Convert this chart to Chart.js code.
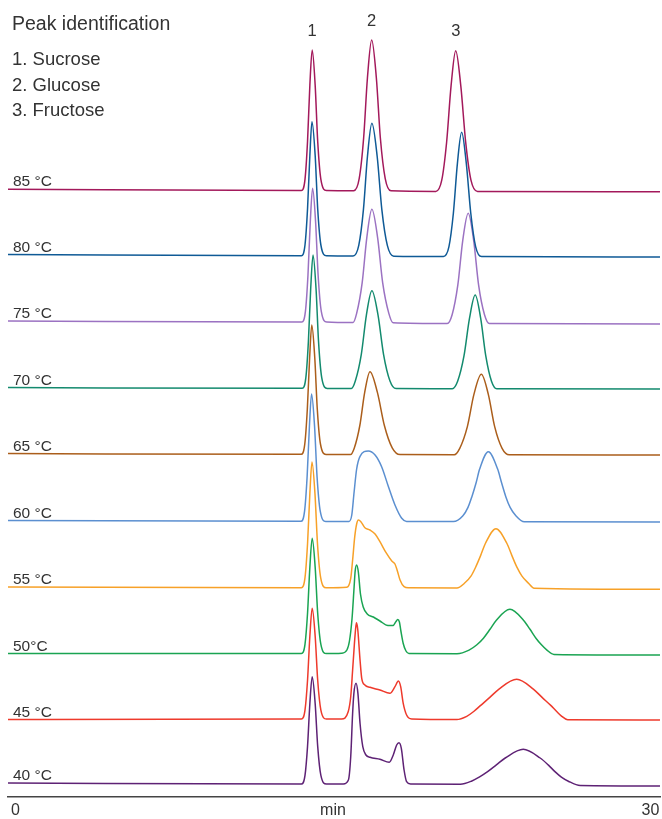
<!DOCTYPE html>
<html>
<head>
<meta charset="utf-8">
<title>Sugar separation vs column temperature</title>
<script src="https://cdn.jsdelivr.net/npm/chart.js@4.4.1/dist/chart.umd.min.js"></script>
<style>
  html, body { margin: 0; padding: 0; background: #fff; }
  #wrap { position: relative; width: 662px; height: 819px; }
  #key { position: absolute; left: 12px; top: 0; color: #333; font-family: "Liberation Sans", Arial, sans-serif; }
  #key .title { position: absolute; left: 0; top: 14px; font-size: 19.5px; line-height: 19.5px; white-space: nowrap; }
  #key .list { position: absolute; left: 0; top: 46px; font-size: 18.5px; line-height: 25.7px; white-space: nowrap; }
</style>
</head>
<body>
<div id="wrap">
  <canvas id="chrom" width="662" height="819"></canvas>
  <div id="key">
    <div class="title">Peak identification</div>
    <div class="list">1. Sucrose<br>2. Glucose<br>3. Fructose</div>
  </div>
</div>
<script>
// labels for each trace, top to bottom
const temps = ['85 °C', '80 °C', '75 °C', '70 °C', '65 °C', '60 °C', '55 °C', '50°C', '45 °C', '40 °C'];
const colors = ['#a3195b', '#0f5a96', '#9b72c2', '#138a6e', '#ab5e1b', '#5b8fd0', '#f7a128', '#1aa452', '#ee3a2c', '#5e2275'];

// axis ticks (minutes)
const axisTicks = [0, 15, 30];
const axisLabels = ['0', 'min', '30'];

// peak numbers written above the 85 °C trace
const peakNumbers = ['1', '2', '3'];
const peakTimes = [14.0, 16.85, 20.8];

// traces: [time (min), signal (stacked, arbitrary units)]
const trace85 = [[-0.35,607.7],[13.51,606.5],[13.68,617.7],[13.80,655.7],[13.91,711.9],[14.02,747],[14.16,711.9],[14.28,655.7],[14.43,617.7],[14.69,606.5],
  [15.98,606.3],[16.24,618.4],[16.45,659],[16.63,719.3],[16.83,757],[17.05,719.3],[17.24,659],[17.47,618.4],[17.74,606.2],
  [19.86,605.6],[20.14,616.8],[20.37,654.8],[20.58,711.1],[20.80,746.3],[21.04,711.1],[21.27,654.8],[21.52,616.8],[21.83,605.5],
  [30.45,605.2]];
const trace80 = [[-0.35,542.4],[13.51,541.3],[13.68,552],[13.80,588.2],[13.91,641.8],[14.01,675.3],[14.16,641.8],[14.28,588.2],[14.43,552],[14.69,541.2],
  [15.95,541],[16.22,551.6],[16.44,587.4],[16.63,640.5],[16.84,673.7],[17.09,640.5],[17.31,587.4],[17.57,551.6],[17.87,540.8],
  [20.22,540.5],[20.48,550.4],[20.69,584],[20.88,633.7],[21.08,664.7],[21.30,633.7],[21.51,584],[21.74,550.4],[22.02,540.4],
  [30.45,540]];
const trace75 = [[-0.35,476],[13.53,475],[13.70,485.7],[13.82,521.8],[13.93,575.3],[14.04,608.7],[14.18,575.3],[14.30,521.8],[14.45,485.7],[14.71,475],
  [15.95,474.5],[16.12,483.6],[16.38,514.1],[16.60,559.4],[16.84,587.7],[17.11,559.4],[17.35,514.1],[17.64,483.6],[17.84,474.3],
  [20.40,473.5],[20.63,482.3],[20.90,512.1],[21.13,556.2],[21.39,583.7],[21.65,556.2],[21.88,512.1],[22.16,482.3],[22.39,473.4],
  [30.45,473]];
const trace70 = [[-0.35,409.4],[13.55,408.7],[13.72,419.4],[13.84,455.4],[13.95,508.7],[14.06,542],[14.20,508.7],[14.32,455.4],[14.47,419.4],[14.73,408.6],
  [15.87,408.5],[16.06,416.3],[16.34,442.7],[16.58,481.9],[16.84,506.3],[17.13,481.9],[17.39,442.7],[17.69,416.3],[17.98,408.4],
  [20.64,408.3],[20.89,415.8],[21.19,441.1],[21.45,478.6],[21.72,502],[21.98,478.6],[22.22,441.1],[22.49,415.8],[22.74,408.2],
  [30.45,408]];
const trace65 = [[-0.35,343.4],[13.50,342.7],[13.67,353],[13.79,388],[13.90,439.7],[14.00,472],[14.14,439.7],[14.26,388],[14.41,353],[14.67,342.6],
  [15.83,342.5],[16.01,349.1],[16.27,371.5],[16.50,404.6],[16.75,425.3],[17.10,404.6],[17.43,371.5],[17.80,349.1],[18.17,342.4],
  [20.73,342.3],[20.99,348.7],[21.35,370.4],[21.66,402.6],[22.01,422.7],[22.34,402.6],[22.64,370.4],[22.99,348.7],[23.33,342.2],
  [30.45,342]];
const trace60 = [[-0.35,276.5],[13.49,275.7],[13.66,285.9],[13.78,320.3],[13.89,371.2],[13.99,403],[14.13,371.2],[14.25,320.3],[14.40,285.9],[14.66,275.6],
  [15.76,275.6],[15.89,282],[16.00,305],[16.12,328],[16.28,340.7],[16.67,346],[16.99,342],[17.30,330.3],[17.61,311],[17.93,292],[18.25,278.7],[18.48,275.5],
  [20.69,275.4],[21.14,281.3],[21.38,289.6],[21.56,300.1],[21.76,314],[21.93,327.9],[22.34,345.3],[22.78,327.9],[22.97,314],[23.17,300.1],[23.37,289.6],[23.64,281.3],[24.04,275.2],
  [30.45,275]];
const trace55 = [[-0.35,210],[13.51,209.3],[13.68,219.4],[13.80,253.3],[13.91,303.6],[14.01,335],[14.15,303.6],[14.27,253.3],[14.42,219.4],[14.68,209.2],
  [15.65,209.7],[15.84,218.7],[15.93,237],[16.03,260.3],[16.12,273],[16.20,277],[16.32,275.3],[16.51,269.3],[16.75,267],[16.99,263],[17.22,255.3],
  [17.51,244.3],[17.78,236],[17.93,233],[18.04,226.3],[18.17,217],[18.36,210.3],[18.56,209.2],
  [20.86,209],[21.21,213.7],[21.52,220.9],[21.74,229.8],[21.98,241.6],[22.20,253.5],[22.70,268.3],[23.22,253.5],[23.45,241.6],[23.69,229.8],[23.93,220.9],[24.24,213.7],[24.50,208.8],
  [30.45,207.7]];
const trace50 = [[-0.35,143.5],[13.51,143.5],[13.68,152.7],[13.80,183.8],[13.91,229.9],[14.02,258.7],[14.16,229.9],[14.28,183.8],[14.43,152.7],[14.69,143.4],
  [15.41,143.8],[15.66,147],[15.78,156],[15.90,178],[16.00,210],[16.05,226],[16.12,232],[16.20,225],[16.30,203],[16.43,190],[16.62,183],[16.91,180],
  [17.22,176],[17.60,171.5],[17.84,171.5],[17.98,175.5],[18.06,177.5],[18.14,175],[18.21,166],[18.32,153.5],[18.45,146],[18.59,143.5],
  [20.86,143.3],[21.43,146.9],[21.80,152.2],[22.11,158.8],[22.42,167.7],[22.71,176.6],[23.36,187.7],[24.01,176.6],[24.31,167.7],[24.59,158.8],[24.85,152.2],[25.11,146.9],[25.44,142.6],
  [30.45,142]];
const trace45 = [[-0.35,77.5],[13.51,78],[13.68,86.9],[13.80,116.7],[13.91,161],[14.02,188.7],[14.16,161],[14.28,116.7],[14.43,86.9],[14.69,78],
  [15.41,78],[15.72,85.3],[15.84,100.3],[15.93,127],[16.01,152],[16.07,168],[16.11,174.3],[16.17,168],[16.28,137],[16.36,118.7],[16.51,112],
  [16.75,109.7],[17.22,107],[17.69,103.7],[17.93,110.3],[18.09,116],[18.20,110.3],[18.32,93.7],[18.48,82],[18.72,78],
  [20.85,77.5],[21.32,80.7],[21.65,85.5],[21.98,91.6],[22.41,99.6],[22.83,107.7],[23.68,117.7],[24.48,107.7],[24.88,99.6],[25.29,91.6],[25.57,85.5],[25.81,80.7],[26.09,77.2],
  [30.45,77]];
const trace40 = [[-0.35,14],[13.51,13],[13.68,21.6],[13.80,50.6],[13.91,93.5],[14.02,120.3],[14.16,93.5],[14.28,50.6],[14.43,21.6],[14.69,13],
  [15.49,13],[15.73,17],[15.84,40.3],[15.93,83.7],[15.99,103.7],[16.09,113.7],[16.18,103.7],[16.28,73.7],[16.41,50.3],[16.56,42],[16.75,39.7],
  [17.22,37.7],[17.66,34.7],[17.85,42],[18.01,52],[18.12,54.3],[18.23,48.7],[18.36,27],[18.48,15.3],[18.67,13],
  [21.02,12.8],[21.54,15.8],[21.91,19.9],[22.29,25.1],[22.72,32.1],[23.14,39],[23.99,47.7],[24.79,39],[25.17,32.1],[25.50,25.1],[25.79,19.9],[26.12,15.8],[26.68,11.5],
  [30.45,11]];

const traces = [trace85, trace80, trace75, trace70, trace65, trace60, trace55, trace50, trace45, trace40];

const FONT = '"Liberation Sans", Arial, sans-serif';

// temperature labels at the left of each trace + peak numbers over the top trace
const traceLabels = {
    id: 'traceLabels',
    afterDatasetsDraw(chart) {
        const { ctx, scales: { x, y } } = chart;
        ctx.save();
        ctx.fillStyle = '#333';
        ctx.font = '15.5px ' + FONT;
        ctx.textAlign = 'left';
        ctx.textBaseline = 'alphabetic';
        chart.data.datasets.forEach(ds => {
            ctx.fillText(ds.label, 13, y.getPixelForValue(ds.data[0].y) - 3);
        });

        const top = chart.data.datasets[0].data;
        ctx.font = '16.5px ' + FONT;
        ctx.textAlign = 'center';
        ctx.textBaseline = 'middle';
        peakNumbers.forEach((n, i) => {
            const best = top.filter(p => Math.abs(p.x - peakTimes[i]) < 0.4)
                .reduce((a, b) => (b.y > a.y ? b : a));
            ctx.fillText(n, x.getPixelForValue(best.x), y.getPixelForValue(best.y) - 19);
        });
        ctx.restore();
    }
};

new Chart(document.getElementById('chrom'), {
    type: 'line',
    data: {
        datasets: traces.map((tr, i) => ({
            label: temps[i],
            data: tr.map(([t, v]) => ({ x: t, y: v })),
            borderColor: colors[i],
            borderWidth: 1.5,
            pointRadius: 0,
            fill: false,
            cubicInterpolationMode: 'monotone'
        }))
    },
    options: {
        responsive: false,
        animation: false,
        layout: { padding: { left: 8, right: 2, top: 0, bottom: 0 } },
        plugins: { legend: { display: false }, tooltip: { enabled: false } },
        scales: {
            x: {
                type: 'linear',
                min: -0.35,
                max: 30.45,
                afterBuildTicks: axis => { axis.ticks = axisTicks.map(v => ({ value: v })); },
                afterFit: axis => {
                    // axis band under the traces is 22px tall, no extra side padding
                    axis.height = 22;
                    axis.paddingLeft = 0;
                    axis.paddingRight = 0;
                },
                grid: { display: false, drawTicks: false },
                border: { display: true, color: '#444', width: 1.6 },
                ticks: {
                    autoSkip: false,
                    maxRotation: 0,
                    padding: 6,
                    color: '#333',
                    font: { family: FONT, size: 16, lineHeight: 1 },
                    callback: v => axisLabels[axisTicks.indexOf(v)]
                }
            },
            y: { display: false, min: 0, max: 797 }
        }
    },
    plugins: [traceLabels]
});
</script>
</body>
</html>
